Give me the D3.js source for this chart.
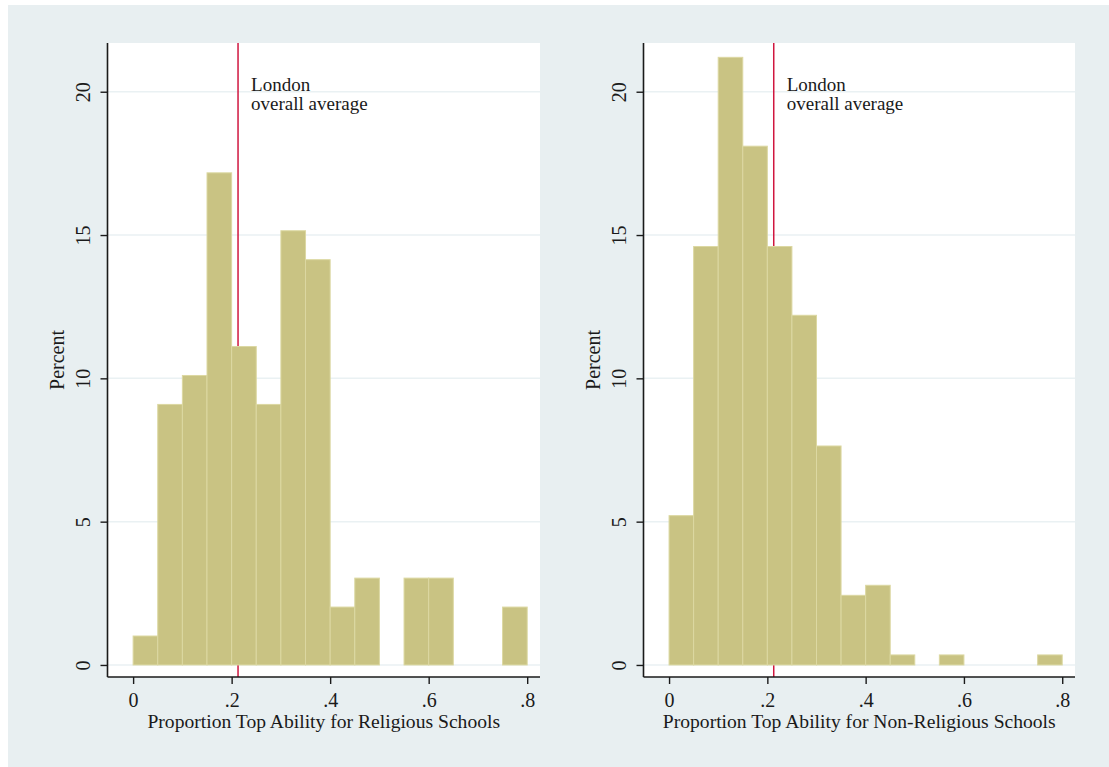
<!DOCTYPE html>
<html>
<head>
<meta charset="utf-8">
<script src="https://cdn.jsdelivr.net/npm/d3@7/dist/d3.min.js"></script>
<style>
  html, body { margin: 0; padding: 0; background: #ffffff; }
  svg { display: block; }
  text { font-family: "Liberation Serif", "DejaVu Serif", serif; fill: #1a1a1a; }
</style>
</head>
<body>
<svg id="chart" width="1109" height="767"></svg>
<script>
// bins of width .05, starting at 0
var binStarts = [0, .05, .1, .15, .2, .25, .3, .35, .4, .45, .5, .55, .6, .65, .7, .75];
var religiousPct = [1.01, 9.09, 10.10, 17.17, 11.11, 9.09, 15.15, 14.14, 2.02, 3.03, 0, 3.03, 3.03, 0, 0, 2.02];
var nonReligiousPct = [5.21, 14.6, 21.2, 18.1, 14.6, 12.2, 7.64, 2.43, 2.78, 0.35, 0, 0.35, 0, 0, 0, 0.35];
var binWidth = 0.05;
var londonAvg = 0.213;
var xTicks = [0, .2, .4, .6, .8];
var xTickLabels = ['0', '.2', '.4', '.6', '.8'];
var yTicks = [0, 5, 10, 15, 20];
var panelTitles = ['Proportion Top Ability for Religious Schools', 'Proportion Top Ability for Non-Religious Schools'];

var svg = d3.select('#chart');

// 外框背景
svg.append('rect')
    .attr('x', 8).attr('y', 5).attr('width', 1101).attr('height', 762)
    .attr('fill', '#e8eff1');

var panels = [
    {left: 107.5, right: 540, data: religiousPct, title: panelTitles[0]},
    {left: 643.5, right: 1075, data: nonReligiousPct, title: panelTitles[1]}
];
var plotTop = 43, plotBottom = 677;

panels.forEach(function(p) {
    var x = d3.scaleLinear().domain([-0.052, 0.826]).range([p.left, p.right]);
    var y = d3.scaleLinear().domain([-0.42, 21.7]).range([plotBottom, plotTop]);
    var g = svg.append('g');

    // 绘图区
    g.append('rect')
        .attr('x', p.left).attr('y', plotTop)
        .attr('width', p.right - p.left).attr('height', plotBottom - plotTop)
        .attr('fill', '#ffffff');

    // 网格线
    g.append('g').selectAll('line')
        .data(yTicks).enter().append('line')
        .attr('x1', p.left).attr('x2', p.right)
        .attr('y1', function(d) { return y(d); })
        .attr('y2', function(d) { return y(d); })
        .attr('stroke', '#eaf1f3').attr('stroke-width', 1.5);

    // 参考线（在柱子下面）
    g.append('line')
        .attr('x1', x(londonAvg)).attr('x2', x(londonAvg))
        .attr('y1', plotTop).attr('y2', plotBottom)
        .attr('stroke', '#d0163f').attr('stroke-width', 1.5);

    // 柱子
    g.append('g').selectAll('rect')
        .data(binStarts.map(function(b, i) { return {b: b, v: p.data[i]}; })
            .filter(function(d) { return d.v > 0; }))
        .enter().append('rect')
        .attr('x', function(d) { return x(d.b); })
        .attr('width', function(d) { return x(d.b + binWidth) - x(d.b); })
        .attr('y', function(d) { return y(d.v); })
        .attr('height', function(d) { return y(0) - y(d.v); })
        .attr('fill', '#c9c383')
        .attr('stroke', '#dcd8a2').attr('stroke-width', 1);

    // 标注
    g.append('text')
        .attr('x', x(londonAvg) + 13).attr('y', 91)
        .attr('font-size', 19).text('London');
    g.append('text')
        .attr('x', x(londonAvg) + 13).attr('y', 110)
        .attr('font-size', 19).text('overall average');

    // x 轴
    var xAxis = d3.axisBottom(x).tickValues(xTicks)
        .tickFormat(function(d, i) { return xTickLabels[i]; })
        .tickSize(7).tickPadding(9).tickSizeOuter(0);
    var xg = g.append('g').attr('transform', 'translate(0,' + plotBottom + ')').call(xAxis);
    xg.select('.domain').attr('stroke', '#1a1a1a').attr('stroke-width', 1.6)
        .attr('d', 'M' + p.left + ',0H' + p.right);
    xg.selectAll('.tick line').attr('stroke', '#1a1a1a').attr('stroke-width', 1.4);
    xg.selectAll('.tick text').attr('font-size', 20)
        .attr('font-family', '"Liberation Serif", serif').attr('fill', '#1a1a1a');

    // y 轴
    var yAxis = d3.axisLeft(y).tickValues(yTicks)
        .tickSize(7).tickPadding(11).tickSizeOuter(0);
    var yg = g.append('g').attr('transform', 'translate(' + p.left + ',0)').call(yAxis);
    yg.select('.domain').attr('stroke', '#1a1a1a').attr('stroke-width', 1.6)
        .attr('d', 'M0,' + plotTop + 'V' + plotBottom);
    yg.selectAll('.tick line').attr('stroke', '#1a1a1a').attr('stroke-width', 1.4);
    yg.selectAll('.tick text')
        .attr('font-size', 20).attr('font-family', '"Liberation Serif", serif').attr('fill', '#1a1a1a')
        .attr('text-anchor', 'middle').attr('dy', 0)
        .attr('transform', 'rotate(-90)')
        .attr('x', 0).attr('y', -18);

    // 轴标题
    g.append('text')
        .attr('x', (p.left + p.right) / 2).attr('y', 728)
        .attr('text-anchor', 'middle').attr('font-size', 19.6)
        .text(p.title);
    g.append('text')
        .attr('transform', 'translate(' + (p.left - 43.5) + ',' + ((plotTop + plotBottom) / 2) + ') rotate(-90)')
        .attr('text-anchor', 'middle').attr('font-size', 20)
        .text('Percent');
});
</script>
</body>
</html>
